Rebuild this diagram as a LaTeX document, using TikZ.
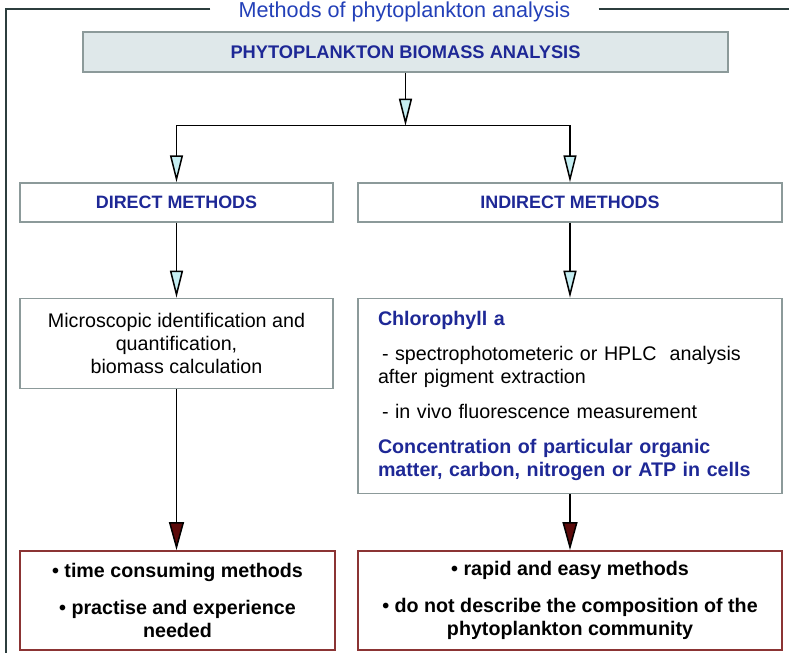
\documentclass[tikz,border=0pt]{standalone}
\usepackage{fontspec}
\setmainfont{Liberation Sans}
\usepackage{xcolor}
\usetikzlibrary{arrows.meta, positioning}
\definecolor{headblue}{RGB}{30,40,150}
\definecolor{titleblue}{RGB}{35,64,184}
\definecolor{boxgray}{RGB}{140,154,154}
\definecolor{topfill}{RGB}{223,232,234}
\definecolor{framegray}{RGB}{44,62,62}
\definecolor{boxred}{RGB}{139,52,52}
\definecolor{tipcyan}{RGB}{197,238,242}
\definecolor{tipred}{RGB}{92,10,10}
\newcommand{\bodyfont}{\fontsize{11.2}{13.1}\selectfont}
\tikzstyle{topbox} = [rectangle, 
minimum width=12.9cm, 
minimum height=0.8cm, 
fill=topfill, 
draw=boxgray, line width=0.8pt,
font=\fontsize{10.4}{12}\selectfont\bfseries, 
text=headblue]
\tikzstyle{header} = [rectangle, 
minimum width=6.26cm, 
minimum height=0.78cm, 
draw=boxgray, line width=0.8pt,
font=\fontsize{10.2}{12}\selectfont\bfseries, 
text=headblue]
\tikzstyle{process} = [rectangle, 
minimum width=6.26cm, 
inner sep=0pt,
draw=boxgray, line width=0.8pt,
align=center, 
font=\bodyfont]
\tikzstyle{result} = [rectangle, 
minimum width=6.3cm, 
minimum height=1.98cm, 
inner sep=0pt,
draw=boxred, line width=0.8pt,
align=center, 
font=\bodyfont\bfseries]
\tikzstyle{frameline} = [framegray, line width=1.1pt]
\tikzstyle{arrow} = [line width=0.85pt,-{Triangle[length=0.54cm,width=0.26cm,fill=tipcyan]}]
\tikzstyle{redarrow} = [line width=0.85pt,-{Triangle[length=0.56cm,width=0.3cm,fill=tipred]}]

\begin{document}
\begin{tikzpicture}[node distance=1.5cm, auto]
        \useasboundingbox (0,0) rectangle (15.78,-13.06);

        % outer frame with title
        \node (title) [anchor=base, inner xsep=0.56cm, text=titleblue, font=\fontsize{12.3}{14}\selectfont] at (8.09,-0.36) {Methods of phytoplankton analysis};
        \coordinate (frameTL) at (0.12,-0.18);
        \coordinate (frameBL) at (0.12,-13.06);
        \coordinate (frameTR) at (15.78,-0.18);
        \draw [frameline] (title.west |- frameTL) -- (frameTL) -- (frameBL);
        \draw [frameline] (title.east |- frameTR) -- (frameTR);

        \node (top) [topbox] at (8.11,-1.04) {PHYTOPLANKTON BIOMASS ANALYSIS};
        \coordinate [below=1.06cm of top.south] (split);

        \node (direct) [header] at (3.53,-4.05) {DIRECT METHODS};
        \node (indirect) [header, minimum width=8.48cm] at (11.4,-4.05) {INDIRECT METHODS};

        \node (micro) [process, minimum height=1.8cm, below=of direct] {Microscopic identification and\\ quantification,\\ biomass calculation};
        \node (chloro) [process, minimum width=8.48cm, minimum height=3.9cm, text width=7.68cm, align=left, below=of indirect] {%
            {\color{headblue}\bfseries Chlorophyll a}\\[0.25cm]
            \hspace*{0.08cm}- spectrophotometeric or HPLC\ \ analysis\\
            after pigment extraction\\[0.24cm]
            \hspace*{0.08cm}- in vivo fluorescence measurement\\[0.24cm]
            {\color{headblue}\bfseries Concentration of particular organic}\\
            {\color{headblue}\bfseries matter, carbon, nitrogen or ATP in cells}};

        \node (resL) [result, below=3.22cm of micro, xshift=0.02cm] {• time consuming methods\\[0.28cm] • practise and experience\\ needed};
        \node (resR) [result, minimum width=8.48cm, below=1.12cm of chloro] {• rapid and easy methods\\[0.28cm] • do not describe the composition of the\\ phytoplankton community};

        \draw [arrow] (top) -- (split);
        \draw [arrow] (split) -| (direct);
        \draw [arrow] (split) -| (indirect);
        \draw [arrow] (direct) -- (micro);
        \draw [arrow] (indirect) -- (chloro);
        \draw [redarrow] (micro.south) -- (micro.south |- resL.north);
        \draw [redarrow] (chloro) -- (resR);

    \end{tikzpicture}
\end{document}
